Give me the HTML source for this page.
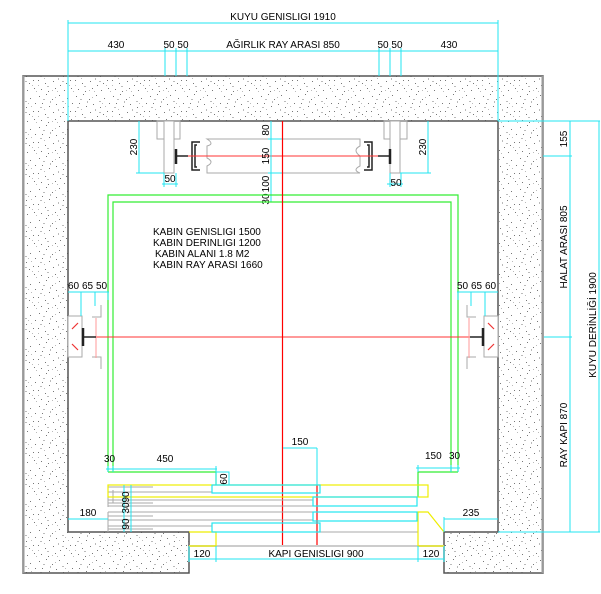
<!DOCTYPE html>
<html><head><meta charset="utf-8"><style>
html,body{margin:0;padding:0;background:#fff;width:601px;height:594px;overflow:hidden}
svg{display:block}
text{font-family:"Liberation Sans",sans-serif;font-size:10px;fill:#000}
</style></head><body>
<svg width="601" height="594" viewBox="0 0 601 594" xmlns="http://www.w3.org/2000/svg">
<defs>
<pattern id="sp" width="37" height="31" patternUnits="userSpaceOnUse">
<g fill="#777">
<rect x="2" y="3" width="1" height="1"/><rect x="9" y="1" width="1" height="1"/><rect x="15" y="6" width="1" height="1"/><rect x="22" y="2" width="1" height="1"/><rect x="30" y="5" width="1" height="1"/><rect x="35" y="10" width="1" height="1"/>
<rect x="5" y="10" width="1" height="1"/><rect x="12" y="13" width="1" height="1"/><rect x="19" y="11" width="1" height="1"/><rect x="26" y="14" width="1" height="1"/><rect x="33" y="18" width="1" height="1"/>
<rect x="1" y="18" width="1" height="1"/><rect x="8" y="21" width="1" height="1"/><rect x="16" y="19" width="1" height="1"/><rect x="23" y="23" width="1" height="1"/><rect x="29" y="21" width="1" height="1"/>
<rect x="4" y="27" width="1" height="1"/><rect x="11" y="29" width="1" height="1"/><rect x="18" y="26" width="1" height="1"/><rect x="27" y="28" width="1" height="1"/><rect x="34" y="26" width="1" height="1"/>
</g>
<g fill="#bbb">
<rect x="6" y="6" width="2" height="1"/><rect x="13" y="8" width="1" height="2"/><rect x="25" y="8" width="2" height="1"/><rect x="31" y="13" width="1" height="1"/><rect x="3" y="14" width="2" height="1"/><rect x="21" y="16" width="1" height="2"/><rect x="10" y="24" width="2" height="1"/><rect x="32" y="23" width="1" height="1"/><rect x="15" y="28" width="1" height="1"/>
<rect x="18" y="4" width="1" height="1"/><rect x="28" y="10" width="1" height="1"/><rect x="7" y="16" width="1" height="1"/><rect x="25" y="19" width="2" height="1"/><rect x="36" y="29" width="1" height="1"/><rect x="20" y="29" width="1" height="1"/><rect x="1" y="23" width="1" height="1"/>
</g>
</pattern>
</defs>

<path d="M23,76 H543 V573 H444 V532 H498 V121 H68 V532 H189 V573 H23 Z" fill="url(#sp)" stroke="#555" stroke-width="1.5"/>
<line x1="23.5" y1="76" x2="23.5" y2="573" stroke="#999" stroke-width="2"/>
<line x1="542.5" y1="76" x2="542.5" y2="573" stroke="#999" stroke-width="2"/>

<g stroke="#22e6f0" stroke-width="1" fill="none">
<line x1="68" y1="23" x2="498" y2="23"/>
<line x1="68" y1="51" x2="498" y2="51"/>
<line x1="68" y1="20" x2="68" y2="121"/><line x1="498" y1="20" x2="498" y2="121"/>
<line x1="165" y1="48" x2="165" y2="76"/><line x1="176" y1="48" x2="176" y2="76"/><line x1="187" y1="48" x2="187" y2="76"/>
<line x1="379" y1="48" x2="379" y2="76"/><line x1="390" y1="48" x2="390" y2="76"/><line x1="401" y1="48" x2="401" y2="76"/>
</g>
<text x="283" y="20" text-anchor="middle">KUYU GENISLIGI 1910</text>
<text x="116" y="48" text-anchor="middle">430</text>
<text x="176" y="48" text-anchor="middle">50 50</text>
<text x="283" y="48" text-anchor="middle">AĞIRLIK RAY ARASI 850</text>
<text x="390" y="48" text-anchor="middle">50 50</text>
<text x="449" y="48" text-anchor="middle">430</text>

<g stroke="#22e6f0" stroke-width="1" fill="none">
<line x1="498" y1="121" x2="600" y2="121"/>
<line x1="498" y1="532" x2="600" y2="532"/>
<line x1="570" y1="121" x2="570" y2="532"/>
<line x1="599" y1="121" x2="599" y2="532"/>
<line x1="543" y1="156" x2="572" y2="156"/>
<line x1="544" y1="337" x2="572" y2="337"/>
</g>
<text transform="translate(567,139) rotate(-90)" text-anchor="middle">155</text>
<text transform="translate(567,247) rotate(-90)" text-anchor="middle">HALAT ARASI 805</text>
<text transform="translate(567,435) rotate(-90)" text-anchor="middle">RAY KAPI 870</text>
<text transform="translate(596,325) rotate(-90)" text-anchor="middle">KUYU DERİNLİĞİ 1900</text>

<g stroke="#aaa" stroke-width="1" fill="none">
<rect x="157" y="121" width="23" height="18"/>
<rect x="164" y="121" width="10" height="52" fill="#fff"/>
<rect x="384" y="121" width="23" height="18"/>
<rect x="390" y="121" width="10" height="52" fill="#fff"/>
<path d="M207,139 H360 V146 Q352,150 360,156 V166 Q352,170 360,173 H207 V166 Q215,162 207,158 V146 Q215,144 207,139 Z"/>
</g>
<g stroke="#222" stroke-width="1.5" fill="none">
<path d="M200,142 H192 V170 H200"/><path d="M197,145 H195 V167 H197"/>
<path d="M364,142 H372 V170 H364"/><path d="M367,145 H369 V167 H367"/>
<line x1="176" y1="149" x2="176" y2="164" stroke-width="2.5"/><line x1="176" y1="156" x2="188" y2="156"/>
<line x1="390" y1="149" x2="390" y2="164" stroke-width="2.5"/><line x1="378" y1="156" x2="390" y2="156"/>
</g>
<line x1="188" y1="156" x2="378" y2="156" stroke="#f33" stroke-width="1"/>
<g stroke="#22e6f0" stroke-width="1" fill="none">
<line x1="139" y1="121" x2="139" y2="173"/><line x1="136" y1="173" x2="164" y2="173"/>
<line x1="428" y1="121" x2="428" y2="173"/><line x1="400" y1="173" x2="431" y2="173"/>
<line x1="162" y1="184" x2="178" y2="184"/><line x1="164" y1="173" x2="164" y2="187"/><line x1="176" y1="173" x2="176" y2="187"/>
<line x1="387" y1="184" x2="403" y2="184"/><line x1="390" y1="173" x2="390" y2="187"/><line x1="401" y1="173" x2="401" y2="187"/>
<line x1="271" y1="121" x2="271" y2="202"/>
<line x1="268" y1="139" x2="283" y2="139"/><line x1="268" y1="173" x2="283" y2="173"/><line x1="268" y1="195" x2="283" y2="195"/><line x1="268" y1="202" x2="283" y2="202"/>
</g>
<text transform="translate(137,147) rotate(-90)" text-anchor="middle">230</text>
<text transform="translate(426,147) rotate(-90)" text-anchor="middle">230</text>
<text x="170" y="182" text-anchor="middle">50</text>
<text x="396" y="186" text-anchor="middle">50</text>
<text transform="translate(269,130) rotate(-90)" text-anchor="middle">80</text>
<text transform="translate(269,156) rotate(-90)" text-anchor="middle">150</text>
<text transform="translate(269,184) rotate(-90)" text-anchor="middle">100</text>
<text transform="translate(269,199) rotate(-90)" text-anchor="middle">30</text>

<g stroke="#3e3" stroke-width="1.2" fill="none">
<path d="M108,472 V195 H458 V472"/>
<path d="M113,472 V202 H451 V472"/>
<path d="M108,472 H216 V485"/>
<path d="M458,472 H418 V497"/>
</g>

<text x="153" y="235">KABIN GENISLIGI 1500</text>
<text x="153" y="246">KABIN DERINLIGI 1200</text>
<text x="155" y="257">KABIN ALANI 1.8 M2</text>
<text x="153" y="268">KABIN RAY ARASI 1660</text>

<g stroke="#aaa" stroke-width="1" fill="#fff">
<rect x="68" y="316" width="14" height="41"/>
<rect x="484" y="316" width="14" height="41"/>
</g>
<g stroke="#aaa" fill="none">
<path d="M101,305 V317 H92"/><path d="M101,369 V357 H92"/>
<path d="M467,305 V317 H476"/><path d="M467,369 V357 H476"/>
</g>
<g stroke="#e33" stroke-width="1.2">
<line x1="72" y1="329" x2="78" y2="323"/><line x1="72" y1="344" x2="78" y2="350"/>
<line x1="488" y1="323" x2="494" y2="329"/><line x1="488" y1="350" x2="494" y2="344"/>
</g>
<line x1="96" y1="337" x2="484" y2="337" stroke="#f33" stroke-width="1"/>
<line x1="96" y1="318" x2="96" y2="358" stroke="#f99" stroke-width="1"/>
<line x1="469" y1="318" x2="469" y2="358" stroke="#f99" stroke-width="1"/>
<g stroke="#222" stroke-width="2.5"><line x1="83" y1="328" x2="83" y2="346"/><line x1="483" y1="328" x2="483" y2="346"/></g>
<g stroke="#222" stroke-width="1.5"><line x1="83" y1="337" x2="96" y2="337"/><line x1="470" y1="337" x2="483" y2="337"/></g>
<g stroke="#22e6f0" stroke-width="1" fill="none">
<line x1="68" y1="292" x2="109" y2="292"/><line x1="81" y1="292" x2="81" y2="316"/><line x1="95" y1="292" x2="95" y2="306"/><line x1="108" y1="292" x2="108" y2="300"/>
<line x1="457" y1="292" x2="498" y2="292"/><line x1="485" y1="292" x2="485" y2="316"/><line x1="471" y1="292" x2="471" y2="306"/><line x1="458" y1="292" x2="458" y2="300"/>
</g>
<text x="68" y="289">60</text><text x="82" y="289">65</text><text x="96" y="289">50</text>
<text x="457" y="289">50</text><text x="471" y="289">65</text><text x="485" y="289">60</text>

<line x1="282.5" y1="121" x2="282.5" y2="546" stroke="#f00" stroke-width="1.2"/>
<line x1="317" y1="485" x2="317" y2="546" stroke="#f00" stroke-width="1.2"/>

<g stroke="#aaa" stroke-width="1" fill="none">
<line x1="108" y1="487" x2="153" y2="487"/><line x1="108" y1="492" x2="212" y2="492"/><line x1="113" y1="490" x2="113" y2="503"/>
<line x1="108" y1="500" x2="313" y2="500"/><line x1="108" y1="506" x2="417" y2="506"/><line x1="108" y1="503" x2="153" y2="503"/>
<line x1="108" y1="512" x2="417" y2="512"/><line x1="108" y1="516" x2="153" y2="516"/><line x1="108" y1="520" x2="313" y2="520"/>
<line x1="108" y1="526" x2="212" y2="526"/><line x1="108" y1="529" x2="153" y2="529"/>
<line x1="108" y1="485" x2="108" y2="507"/><line x1="108" y1="512" x2="108" y2="532"/>
<line x1="216" y1="532" x2="418" y2="532"/>
<line x1="189" y1="546" x2="444" y2="546" stroke="#ccc" stroke-width="2"/>
</g>
<g stroke="#ee0" stroke-width="1.2" fill="none">
<rect x="108" y="485" width="320" height="12"/>
<path d="M189,532 H216 V546 H189"/>
<path d="M444,546 H418 V512 H428 L444,532"/>
</g>
<g stroke="#22e6f0" stroke-width="1.2" fill="none">
<rect x="212" y="485" width="108" height="8"/>
<rect x="313" y="497" width="104" height="9"/>
<rect x="313" y="512" width="104" height="9"/>
<rect x="212" y="523" width="108" height="9"/>
</g>

<g stroke="#22e6f0" stroke-width="1" fill="none">
<line x1="106" y1="469" x2="217" y2="469"/><line x1="108" y1="466" x2="108" y2="472"/><line x1="113" y1="466" x2="113" y2="472"/><line x1="216" y1="466" x2="216" y2="485"/>
<rect x="216" y="472" width="13" height="13"/>
<line x1="416" y1="468" x2="460" y2="468"/><line x1="418" y1="465" x2="418" y2="472"/><line x1="451" y1="465" x2="451" y2="472"/><line x1="458" y1="465" x2="458" y2="472"/>
<line x1="283" y1="448" x2="317" y2="448"/><line x1="317" y1="448" x2="317" y2="485"/>
<line x1="124" y1="485" x2="124" y2="532"/><line x1="131" y1="485" x2="131" y2="532"/>
<line x1="68" y1="519" x2="108" y2="519"/><line x1="444" y1="519" x2="498" y2="519"/><line x1="444" y1="517" x2="444" y2="532"/>
<line x1="189" y1="559" x2="444" y2="559"/><line x1="216" y1="546" x2="216" y2="562"/><line x1="418" y1="546" x2="418" y2="562"/>
<line x1="189" y1="546" x2="189" y2="562"/><line x1="444" y1="546" x2="444" y2="562"/>
</g>
<text x="104" y="462">30</text><text x="165" y="462" text-anchor="middle">450</text>
<text transform="translate(227,479) rotate(-90)" text-anchor="middle">60</text>
<text x="425" y="459">150</text><text x="449" y="459">30</text>
<text x="300" y="445" text-anchor="middle">150</text>
<text transform="translate(129,497) rotate(-90)" text-anchor="middle">90</text>
<text transform="translate(129,508) rotate(-90)" text-anchor="middle">30</text>
<text transform="translate(129,524) rotate(-90)" text-anchor="middle">90</text>
<text x="88" y="516" text-anchor="middle">180</text>
<text x="471" y="516" text-anchor="middle">235</text>
<text x="202" y="557" text-anchor="middle">120</text>
<text x="316" y="557" text-anchor="middle">KAPI GENISLIGI 900</text>
<text x="431" y="557" text-anchor="middle">120</text>
</svg>
</body></html>
